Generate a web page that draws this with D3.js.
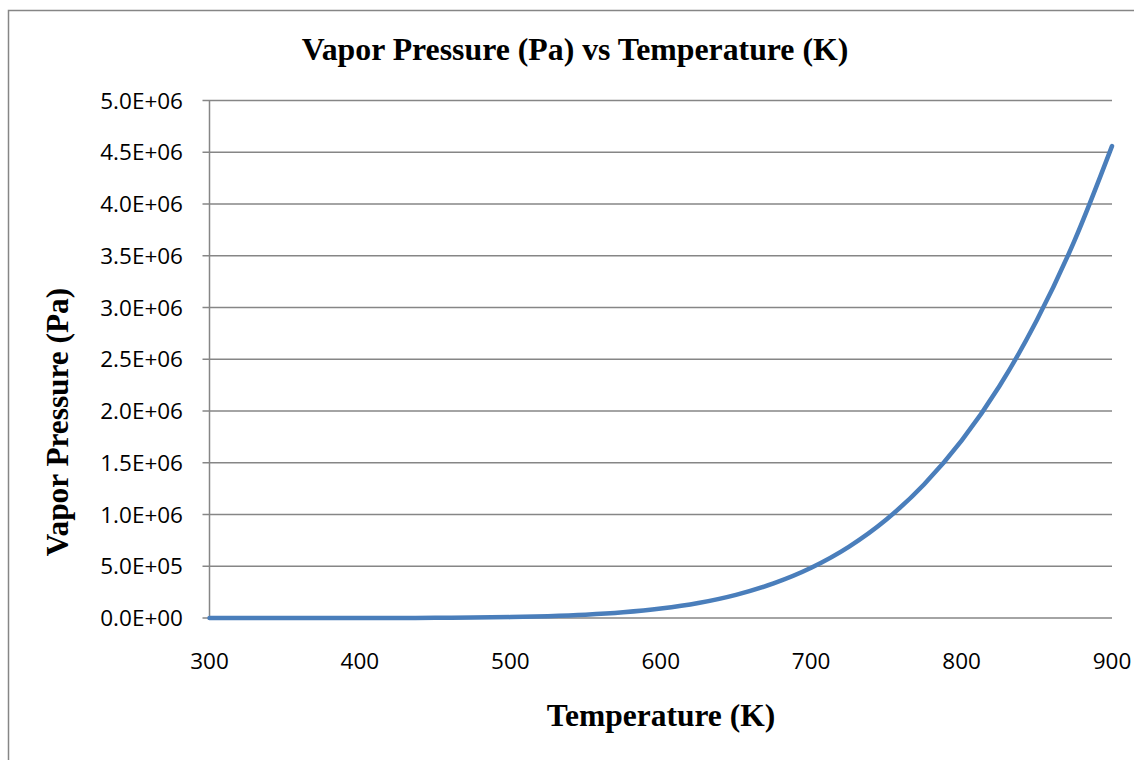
<!DOCTYPE html>
<html>
<head>
<meta charset="utf-8">
<script src="https://cdn.jsdelivr.net/npm/d3@7"></script>
<style>
  body { margin: 0; background: #fff; }
  svg { display: block; }
</style>
</head>
<body>
<script>
// temperature (K) and vapor pressure (Pa)
const temps = [300, 325, 350, 375, 400, 425, 450, 475, 500, 525, 550, 575, 600, 625, 650, 675, 700, 725, 750, 775, 800, 825, 850, 875, 900];
const pressures = [1, 4, 21, 78, 255, 720, 1800, 4100, 8600, 16900, 31000, 54500, 91000, 145000, 224000, 335000, 486000, 688000, 952000, 1290000, 1713000, 2237000, 2876000, 3644000, 4560000];
const xTicks = [300, 400, 500, 600, 700, 800, 900];
const yTicks = [0, 5e5, 1e6, 1.5e6, 2e6, 2.5e6, 3e6, 3.5e6, 4e6, 4.5e6, 5e6];

const width = 1134, height = 760;
const margin = { left: 209.5, right: 22, top: 100.5, bottom: 142 };

const svg = d3.select("body").append("svg")
  .attr("width", width)
  .attr("height", height);

// chart frame (right and bottom edges sit outside the picture)
svg.append("rect")
  .attr("x", 8.5).attr("y", 10.5)
  .attr("width", 1140).attr("height", 780)
  .attr("fill", "none")
  .attr("stroke", "#868686")
  .attr("stroke-width", 1.5);

const x = d3.scaleLinear().domain([300, 900]).range([margin.left, width - margin.right]);
const y = d3.scaleLinear().domain([0, 5e6]).range([height - margin.bottom, margin.top]);

// gridlines
svg.append("g")
  .selectAll("line")
  .data(yTicks)
  .join("line")
  .attr("x1", margin.left - 7)
  .attr("x2", width - margin.right)
  .attr("y1", d => y(d))
  .attr("y2", d => y(d))
  .attr("stroke", "#868686")
  .attr("stroke-width", 1.5);

// y axis line
svg.append("line")
  .attr("x1", margin.left).attr("x2", margin.left)
  .attr("y1", y(5e6)).attr("y2", y(0))
  .attr("stroke", "#868686")
  .attr("stroke-width", 1.5);

// y tick labels
svg.append("g")
  .selectAll("text")
  .data(yTicks)
  .join("text")
  .attr("x", 183)
  .attr("y", d => y(d))
  .attr("dy", "0.36em")
  .attr("text-anchor", "end")
  .attr("font-family", "'Open Sans', sans-serif")
  .attr("font-size", 22.5)
  .attr("fill", "#000")
  .text(d => d.toExponential(1).replace("e", "E").replace(/E([+-])(\d)$/, "E$10$2"));

// x tick labels
svg.append("g")
  .selectAll("text")
  .data(xTicks)
  .join("text")
  .attr("x", d => x(d))
  .attr("y", 669)
  .attr("text-anchor", "middle")
  .attr("font-family", "'Open Sans', sans-serif")
  .attr("font-size", 22.5)
  .attr("fill", "#000")
  .text(d => d);

// curve
const line = d3.line()
  .x((d, i) => x(temps[i]))
  .y(d => y(d))
  .curve(d3.curveMonotoneX);

svg.append("path")
  .datum(pressures)
  .attr("d", line)
  .attr("fill", "none")
  .attr("stroke", "#4a7ebb")
  .attr("stroke-width", 4.5)
  .attr("stroke-linecap", "round");

// titles
const serif = "'Liberation Serif', 'Times New Roman', serif";
svg.append("text")
  .attr("x", 575).attr("y", 60)
  .attr("text-anchor", "middle")
  .attr("font-family", serif)
  .attr("font-weight", "bold")
  .attr("font-size", 31.8)
  .text("Vapor Pressure (Pa) vs Temperature (K)");

svg.append("text")
  .attr("x", 661).attr("y", 726)
  .attr("text-anchor", "middle")
  .attr("font-family", serif)
  .attr("font-weight", "bold")
  .attr("font-size", 31.5)
  .text("Temperature (K)");

svg.append("text")
  .attr("transform", "translate(68,422) rotate(-90)")
  .attr("text-anchor", "middle")
  .attr("font-family", serif)
  .attr("font-weight", "bold")
  .attr("font-size", 31.3)
  .text("Vapor Pressure (Pa)");
</script>
</body>
</html>
